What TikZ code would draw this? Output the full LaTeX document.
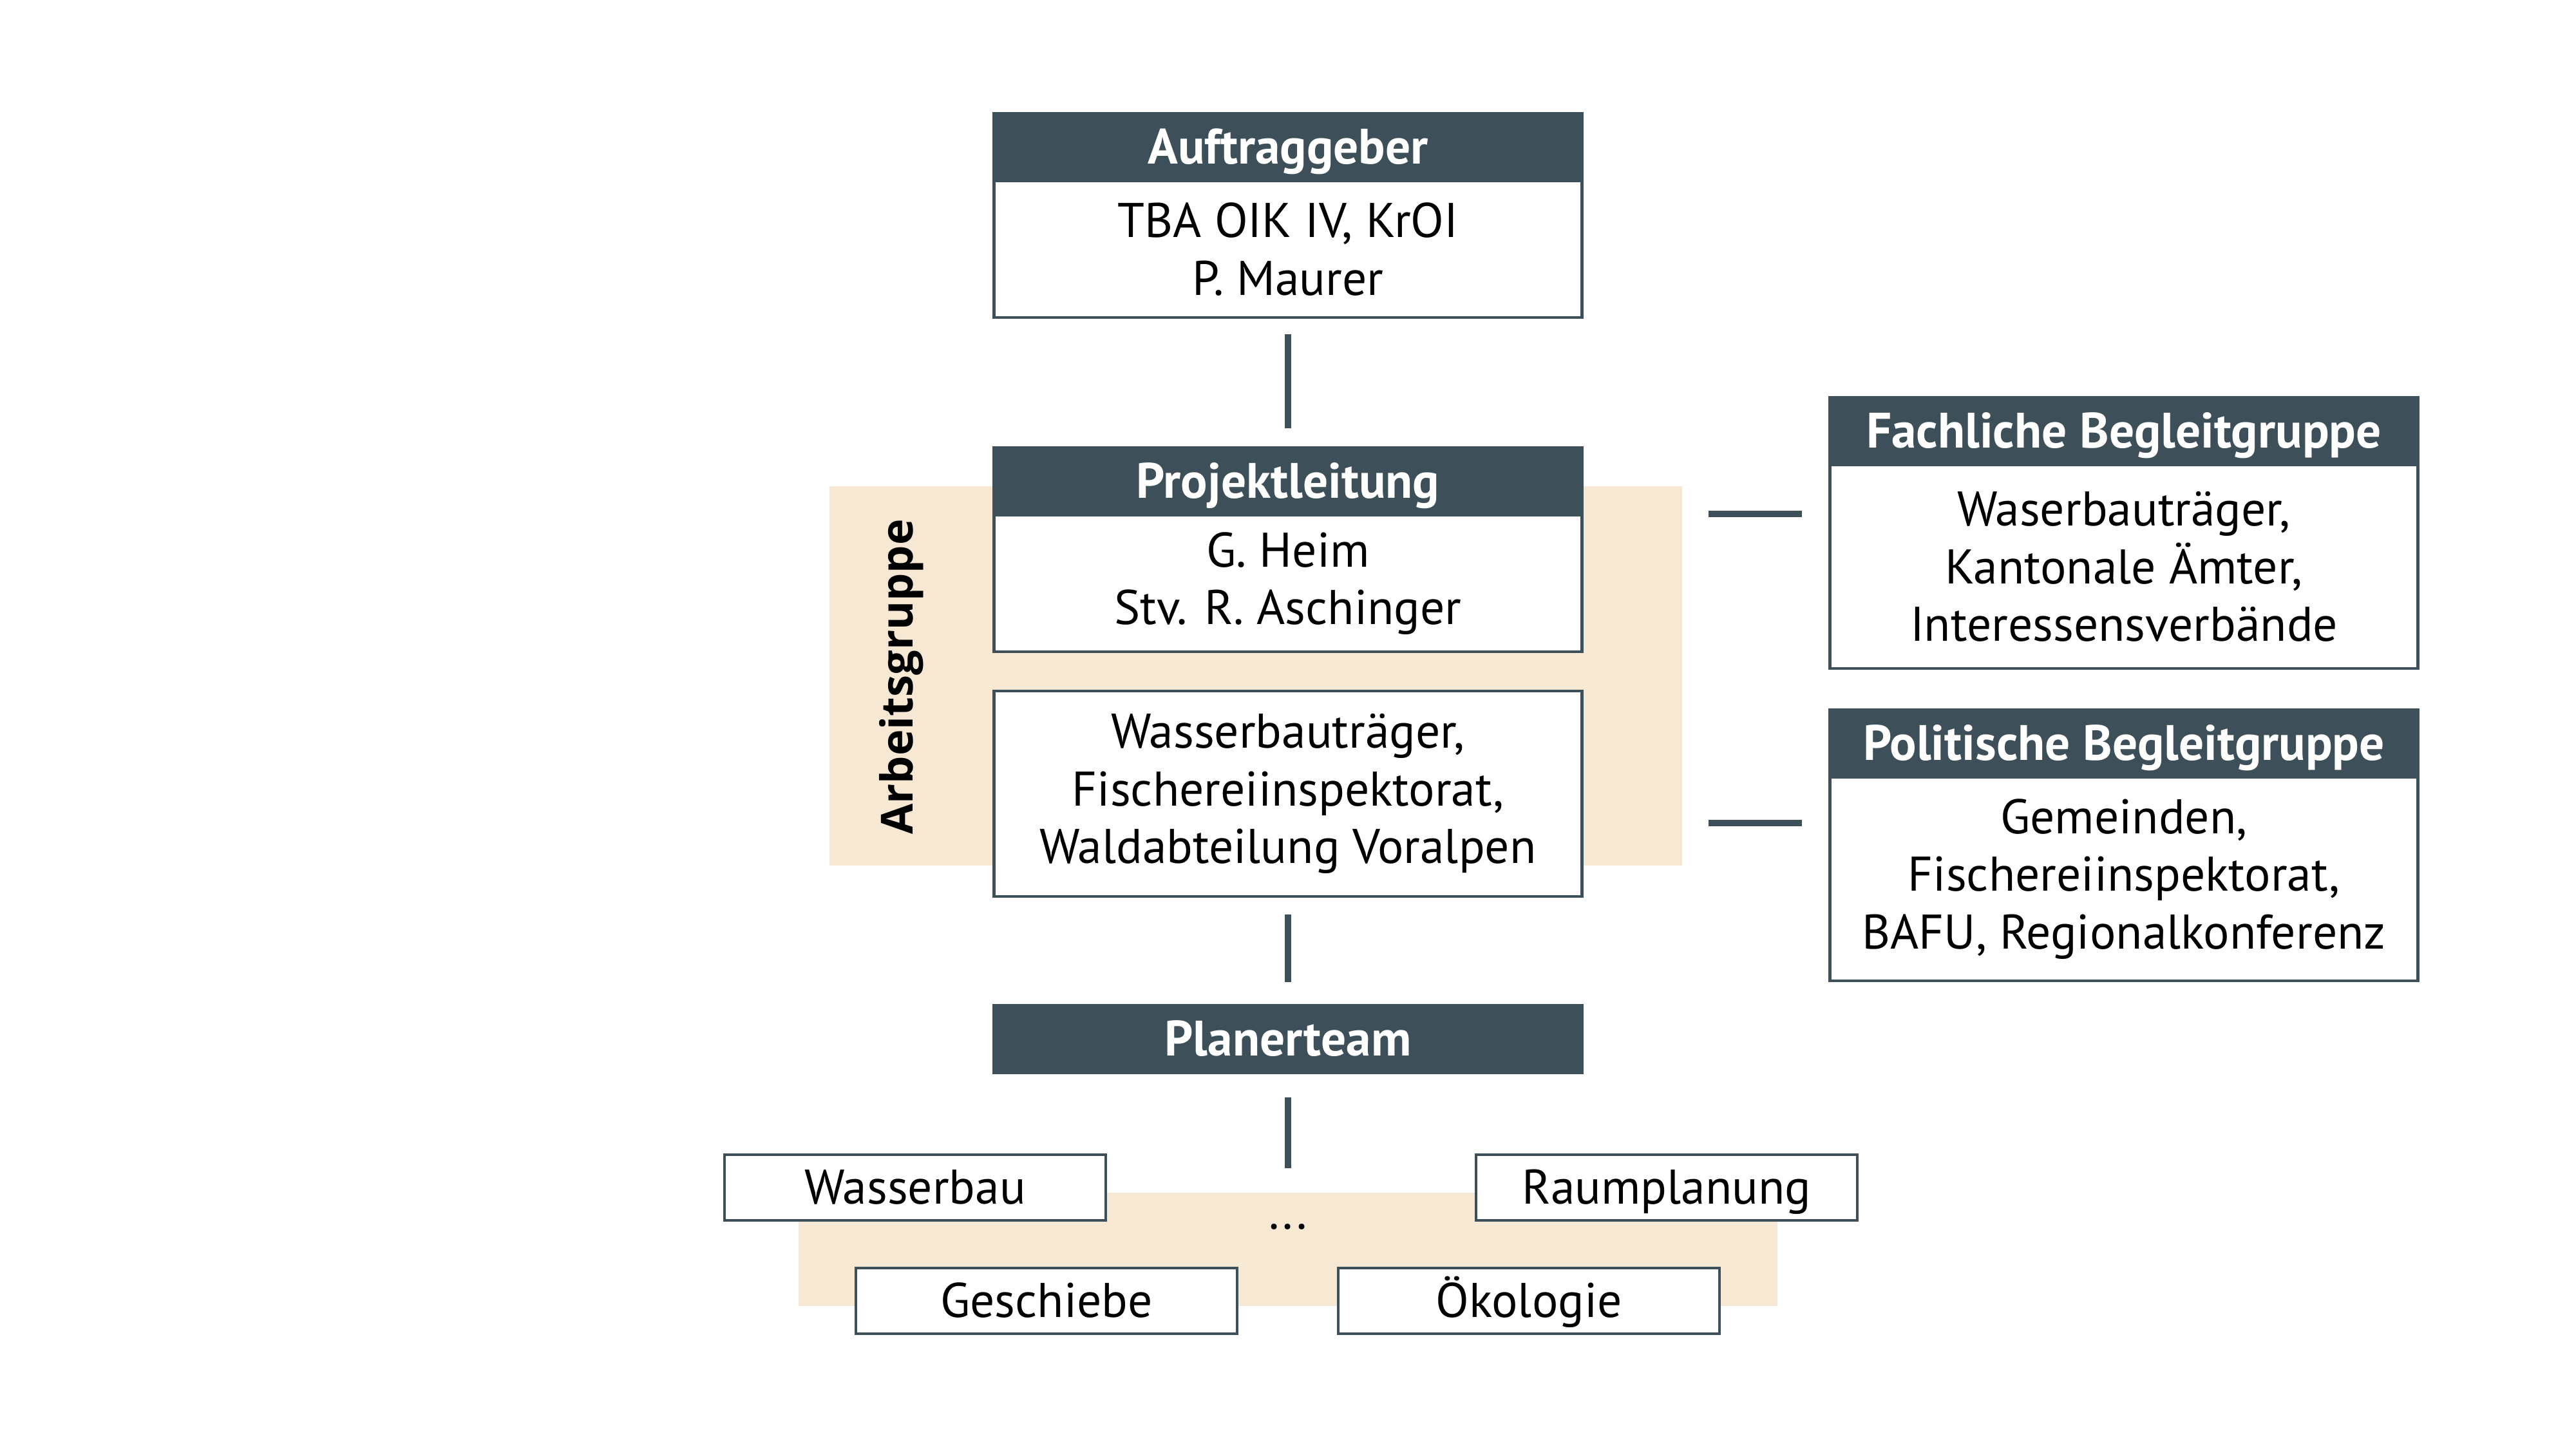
\documentclass[tikz,border=0pt]{standalone}
\usepackage{fontspec}
\setmainfont{PT Sans}
\newfontfamily\agfont{Open Sans}
\usepackage{xcolor}
\usepackage{tikz}
\usetikzlibrary{positioning}
\definecolor{slate}{HTML}{3D4F59}
\definecolor{sand}{HTML}{F7E8D4}

\begin{document}
\begin{tikzpicture}[
  hdr/.style={fill=slate,draw=slate,line width=1.4pt,text=white,inner sep=0pt,outer sep=0pt,minimum width=9.13cm,minimum height=1.05cm,text height=19pt,text depth=4pt,font=\bfseries\fontsize{22}{26}\selectfont},
  body/.style={fill=white,draw=slate,line width=1.4pt,align=center,inner sep=0pt,outer sep=0pt,minimum width=9.13cm,minimum height=2.12cm,font=\fontsize{21.5}{25.5}\selectfont},
  small/.style={body,minimum width=5.92cm,minimum height=1.02cm,text height=18.5pt,text depth=4pt},
  sandbg/.style={fill=sand,inner sep=0pt,outer sep=0pt},
  conn/.style={draw=slate,line width=2.8pt}
]
\useasboundingbox (0,0) rectangle (40,-22.5);
% backgrounds
\node[sandbg,minimum width=13.24cm,minimum height=5.89cm] (agbg) at (19.5,-10.495) {};
\node[sandbg,minimum width=15.2cm,minimum height=1.76cm] (ptbg) at (20,-19.40) {};
\node[rotate=90,font=\agfont\bfseries\fontsize{19.5}{23}\selectfont] (aglbl) at (14.0,-10.51) {Arbeitsgruppe};
% main column
\node[hdr] (auf) at (20,-2.285) {Auftraggeber};
\node[body,below=0pt of auf] (aufb) {TBA OIK IV, KrOI\\P. Maurer};
\node[hdr,below=2.02cm of aufb] (pl) {Projektleitung};
\node[body,below=0pt of pl] (plb) {G. Heim\\Stv. R. Aschinger};
\node[body,below=0.61cm of plb,minimum height=3.19cm] (wb) {Wasserbauträger,\\Fischereiinspektorat,\\Waldabteilung Voralpen};
\node[hdr,below=1.69cm of wb] (pt) {Planerteam};
% accompanying groups
\node[hdr] (fbg) at (32.98,-6.695) {Fachliche Begleitgruppe};
\node[body,below=0pt of fbg,minimum height=3.16cm] (fbgb) {Waserbauträger,\\Kantonale Ämter,\\Interessensverbände};
\node[hdr,below=0.64cm of fbgb] (pbg) {Politische Begleitgruppe};
\node[body,below=0pt of pbg,minimum height=3.16cm] (pbgb) {Gemeinden,\\Fischereiinspektorat,\\BAFU, Regionalkonferenz};
% planning disciplines
\node[small] (wbau) at (14.21,-18.44) {Wasserbau};
\node[small] (raum) at (25.88,-18.44) {Raumplanung};
\node[small] (gesch) at (16.25,-20.20) {Geschiebe};
\node[small] (oeko) at (23.74,-20.20) {Ökologie};
\node[anchor=base,font=\fontsize{21.5}{25.5}\selectfont] (dots) at (20,-19.08) {...};
% connectors
\coordinate (ptend) at (20,-18.14);
\coordinate (h1) at (0,-7.98);
\coordinate (h2) at (0,-12.78);
\draw[conn,shorten <=0.26cm,shorten >=0.3cm] (aufb.south) -- (pl.north);
\draw[conn,shorten <=0.28cm,shorten >=0.36cm] (wb.south) -- (pt.north);
\draw[conn,shorten <=0.38cm] (pt.south) -- (ptend);
\draw[conn,shorten <=0.41cm,shorten >=0.44cm] (agbg.east |- h1) -- (fbg.west |- h1);
\draw[conn,shorten <=0.41cm,shorten >=0.44cm] (agbg.east |- h2) -- (pbgb.west |- h2);
\end{tikzpicture}
\end{document}
